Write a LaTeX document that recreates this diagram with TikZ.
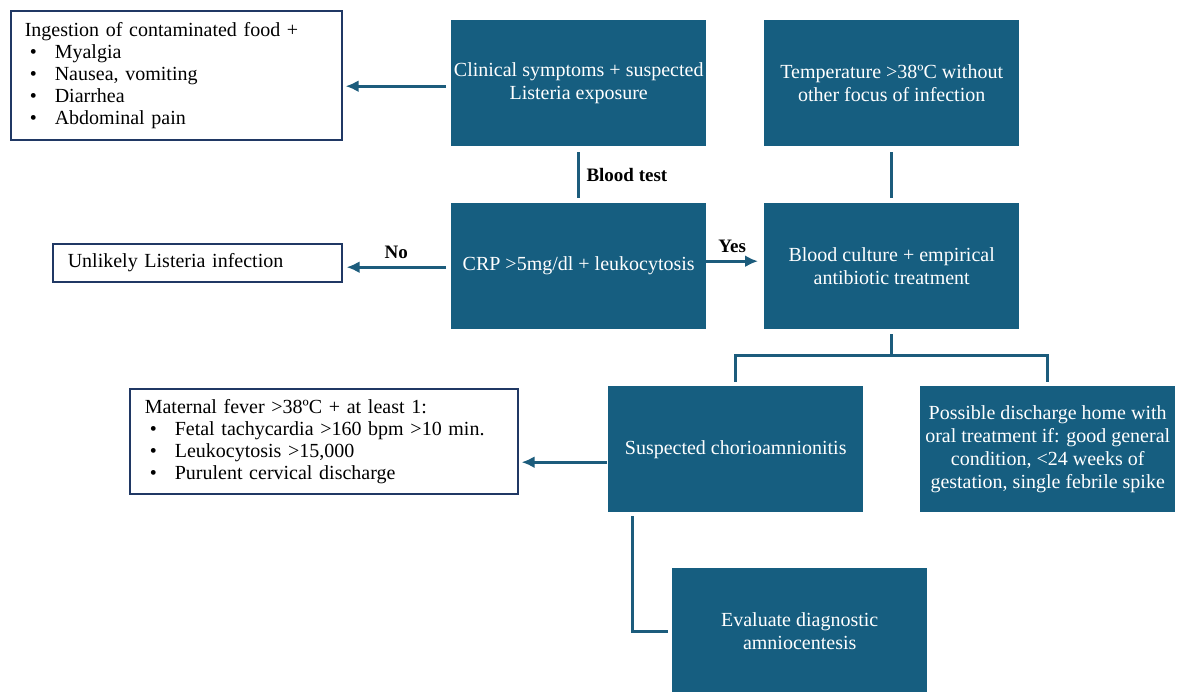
\documentclass[tikz,border=0pt]{standalone}
\usepackage{fontspec}
\setmainfont{Liberation Serif}
\usetikzlibrary{arrows.meta,calc}
\definecolor{boxblue}{RGB}{22,94,128}
\definecolor{navy}{RGB}{32,56,100}
\definecolor{linkblue}{RGB}{28,92,124}
\begin{document}
\begin{tikzpicture}[x=1pt,y=-1pt,
  txt/.style={font=\fontsize{20}{23}\selectfont},
  wtxt/.style={font=\fontsize{20}{22}\selectfont},
  bluebox/.style={txt,fill=boxblue,text=white,minimum width=255pt,minimum height=126pt,
    inner sep=0pt,align=center,anchor=north west},
  whitebox/.style={wtxt,draw=navy,line width=1.6pt,fill=white,align=left,anchor=north west,
    inner ysep=0pt},
  link/.style={draw=linkblue,line width=3pt},
  arr/.style={link,-{Latex[length=13pt,width=12pt]}},
  lab/.style={font=\fontsize{19}{23}\selectfont\bfseries}
]
\useasboundingbox (0,0) rectangle (1178,691);
\newcommand{\bul}[1]{\hspace*{5pt}\makebox[25pt][l]{•}#1}

% blue boxes
\node[bluebox] (B) at (451,20) {Clinical symptoms + suspected\\Listeria exposure};
\node[bluebox] (C) at (764,20) {Temperature >38ºC without\\other focus of infection};
\node[bluebox] (D) at (451,203) {CRP >5mg/dl + leukocytosis};
\node[bluebox] (E) at (764,203) {Blood culture + empirical\\antibiotic treatment};
\node[bluebox] (G) at (608,386) {Suspected chorioamnionitis};
\node[bluebox] (H) at (920,386) {Possible discharge home with\\oral treatment if: good general\\condition, <24 weeks of\\gestation, single febrile spike};
\node[bluebox] (J) at (672,568) {Evaluate diagnostic\\amniocentesis};

% white boxes
\node[whitebox,minimum width=331pt,minimum height=129pt,inner xsep=14pt,text width=303pt] (A) at (10,10)
 {Ingestion of contaminated food +\\\bul{Myalgia}\\\bul{Nausea, vomiting}\\\bul{Diarrhea}\\\bul{Abdominal pain}};
\node[whitebox,minimum width=289pt,minimum height=38pt,inner xsep=15pt,text width=259pt] (F) at (52,243)
 {Unlikely Listeria infection};
\node[whitebox,minimum width=388pt,minimum height=105pt,inner xsep=15pt,text width=358pt] (I) at (129,388)
 {Maternal fever >38ºC + at least 1:\\\bul{Fetal tachycardia >160 bpm >10 min.}\\\bul{Leukocytosis >15,000}\\\bul{Purulent cervical discharge}};

% connectors
\draw[arr] ([xshift=-5pt,yshift=-3pt]B.west) -- ([xshift=3pt,yshift=-3pt]B.west -| A.east);
\draw[link,shorten <=6pt,shorten >=5pt] (B.south) -- (D.north)
  node[lab,midway,right=3pt,anchor=west] {Blood test};
\draw[link,shorten <=6pt,shorten >=5pt] (C.south) -- (E.north);
\draw[arr] ([xshift=-5pt,yshift=-1pt]D.west) -- ([xshift=4pt,yshift=-1pt]D.west -| F.east)
  node[lab,midway,above=4pt] {No};
\draw[arr] ([yshift=5pt]D.east) -- ([xshift=-6pt,yshift=5pt]D.east -| E.west)
  node[lab,midway,above=4pt] {Yes};
\coordinate (T) at ($(E.south)+(0,26)$);
\draw[link,shorten <=5pt] (E.south) -- (T);
\draw[link,line cap=rect] (T -| G.north) -- (T -| H.north);
\draw[link,shorten >=4pt] (T -| G.north) -- (G.north);
\draw[link,shorten >=4pt] (T -| H.north) -- (H.north);
\draw[arr] ([xshift=-1pt,yshift=-13pt]G.west) -- ([xshift=3pt,yshift=-13pt]G.west -| I.east);
\draw[link,shorten <=4pt,shorten >=4pt] ([xshift=24pt]G.south west) |- (J.west);
\end{tikzpicture}
\end{document}
